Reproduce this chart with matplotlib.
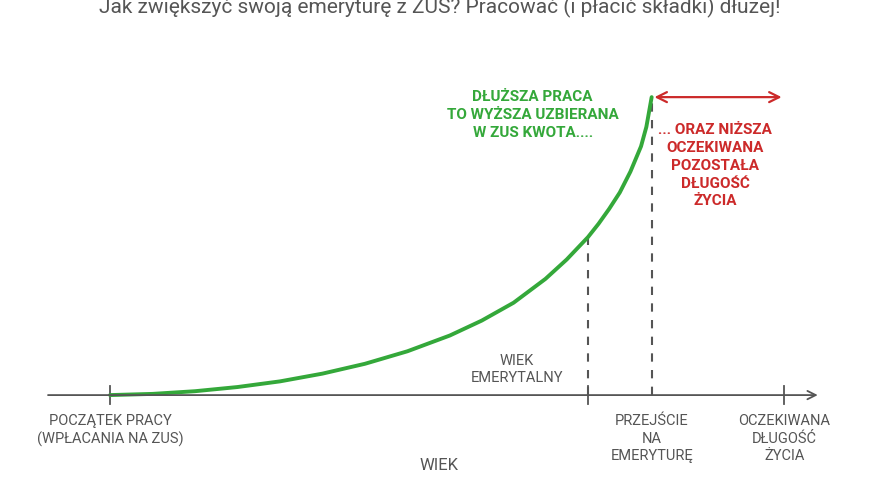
import matplotlib
matplotlib.use("Agg")
import matplotlib.pyplot as plt
import numpy as np

plt.rcParams['font.family'] = ['Roboto', 'DejaVu Sans']

ages = [20, 24, 28, 32, 36, 40, 44, 48, 52, 55, 58, 61, 63, 65, 66, 67, 68, 69, 70, 70.5, 71]
savings = [0, 0.4, 1.3, 2.7, 4.6, 7.2, 10.5, 14.7, 20, 25, 31, 39, 45.5, 53, 57.5, 62.5, 68, 75, 83.5, 90, 100]
start_age = 20
retire_age = 65
actual_retire_age = 71
life_expectancy = 83.5
tick_ages = [start_age, retire_age, life_expectancy]
tick_labels = ["POCZĄTEK PRACY\n(WPŁACANIA NA ZUS)", "PRZEJŚCIE\nNA\nEMERYTURĘ", "OCZEKIWANA\nDŁUGOŚĆ\nŻYCIA"]
title = "Jak zwiększyć swoją emeryturę z ZUS? Pracować (i płacić składki) dłużej!"

gray = "#555555"
green = "#34a83a"
red = "#cc2a2a"

fig = plt.figure(figsize=(8.8, 4.8), dpi=100)
ax = fig.add_axes([0, 0, 1, 1])
ax.set_xlim(9.64, 92.5)
ax.set_ylim(-28.5, 132.6)
ax.axis('off')

ax.annotate("", xy=(86.9, 0), xytext=(13.9, 0),
            arrowprops=dict(arrowstyle='->', color=gray, lw=1.3, mutation_scale=15))
for a in tick_ages:
    ax.plot([a, a], [-3, 3], color=gray, lw=1.3)

ret_val = float(np.interp(retire_age, ages, savings))
ax.plot([retire_age, retire_age], [0, ret_val], color=gray, lw=1.5, ls=(0, (4, 4)))
ax.plot([actual_retire_age, actual_retire_age], [0, max(savings)], color=gray, lw=1.5, ls=(0, (4, 4)))
ax.plot(ages, savings, color=green, lw=2.8, solid_capstyle='round', solid_joinstyle='round')

ax.annotate("", xy=(life_expectancy, 100), xytext=(actual_retire_age, 100),
            arrowprops=dict(arrowstyle='<->', color=red, lw=1.6, mutation_scale=18))

fs = 10.5
ax.text(start_age, -6.5, tick_labels[0], ha='center', va='top', fontsize=fs, color=gray, linespacing=1.3)
ax.text(actual_retire_age, -6.5, tick_labels[1], ha='center', va='top', fontsize=fs, color=gray, linespacing=1.3)
ax.text(life_expectancy, -6.5, tick_labels[2], ha='center', va='top', fontsize=fs, color=gray, linespacing=1.3)
ax.text(58.3, 3.3, "WIEK\nEMERYTALNY", ha='center', va='bottom', fontsize=fs, color=gray, linespacing=1.3)
ax.text(51.0, -23.5, "WIEK", ha='center', va='center', fontsize=12, color=gray)

ax.text(59.8, 94, "DŁUŻSZA PRACA\nTO WYŻSZA UZBIERANA\nW ZUS KWOTA....", ha='center', va='center',
        fontsize=11, color=green, fontweight='bold', linespacing=1.35)
ax.text(77.0, 77, "... ORAZ NIŻSZA\nOCZEKIWANA\nPOZOSTAŁA\nDŁUGOŚĆ\nŻYCIA", ha='center', va='center',
        fontsize=11, color=red, fontweight='bold', linespacing=1.35)

fig.text(0.5, 0.985, title, ha='center', va='center', fontsize=15, color=gray)

fig.savefig("out.png", dpi=100, facecolor='white')
